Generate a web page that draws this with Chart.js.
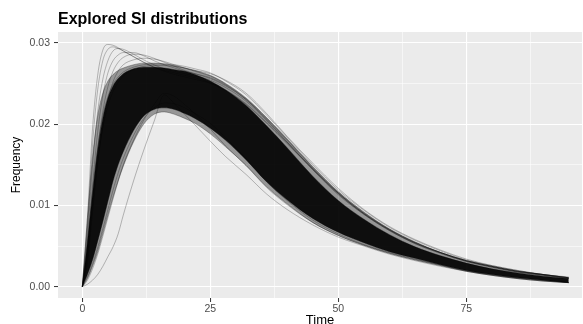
<!DOCTYPE html>
<html>
<head>
<meta charset="utf-8">
<script src="https://cdn.jsdelivr.net/npm/chart.js@4/dist/chart.umd.min.js"></script>
<style>
  html, body { margin: 0; padding: 0; background: #fff; }
  #wrap { width: 583px; height: 324px; position: relative; }
</style>
</head>
<body>
<div id="wrap"><canvas id="c" width="583" height="324"></canvas></div>
<script>
// ---- data ----
const titleText = "Explored SI distributions";
const xTitle = "Time";
const yTitle = "Frequency";
const xTicks = [0, 12.5, 25, 37.5, 50, 62.5, 75, 87.5];
const xMajor = [0, 25, 50, 75];
const yTicks = [0, 0.005, 0.01, 0.015, 0.02, 0.025, 0.03];
const yMajor = [0, 0.01, 0.02, 0.03];

const times = [0,1,2,3,4,5,6,7,8,10,12,14,16,18,20,22,25,28,32,36,40,45,50,55,60,65,70,75,80,85,90,95];

// envelope of the bundle of curves (outer light fringe, inner dense core)
const outerHi = [0,0.0085,0.016,0.021,0.0238,0.0253,0.0261,0.0266,0.0269,0.0273,0.0275,0.0275,0.0274,0.0272,0.0269,0.0266,0.026,0.025,0.0232,0.0208,0.0182,0.0148,0.0117,0.0092,0.0071,0.0055,0.0042,0.0032,0.0025,0.0019,0.0015,0.0011];
const outerLo = [0,0.001,0.0025,0.0043,0.0065,0.0088,0.011,0.013,0.0148,0.0178,0.02,0.0212,0.0215,0.0212,0.0207,0.0201,0.0188,0.0172,0.0149,0.0123,0.0102,0.0079,0.0063,0.0051,0.0041,0.0033,0.0026,0.0019,0.0014,0.001,0.0007,0.0005];
const innerHi = [0,0.0055,0.0115,0.0168,0.0207,0.0232,0.0247,0.0256,0.0262,0.0268,0.027,0.027,0.0269,0.0267,0.0265,0.0261,0.0253,0.0242,0.0223,0.0198,0.0171,0.0136,0.0106,0.0083,0.0064,0.0049,0.0038,0.0029,0.0022,0.0017,0.0013,0.001];
const innerLo = [0,0.0015,0.0033,0.0056,0.008,0.0105,0.013,0.015,0.0166,0.0192,0.021,0.0218,0.022,0.0218,0.0213,0.0207,0.0195,0.018,0.0156,0.0129,0.0107,0.0084,0.0067,0.0054,0.0043,0.0035,0.0027,0.002,0.0015,0.0011,0.0008,0.0005];

// individual visible curves around the bundle
const tall1 = [0,0.0085,0.0195,0.026,0.0291,0.0298,0.0297,0.0294,0.029,0.0283,0.0276,0.027,0.0266,0.0263,0.026,0.0257,0.0251,0.0242,0.0225,0.0202,0.0177,0.0145,0.0115,0.009,0.007,0.0054,0.0042,0.0032,0.0025,0.0019,0.0015,0.0011];
const tall2 = [0,0.006,0.015,0.0215,0.0255,0.0278,0.029,0.0293,0.0292,0.0286,0.0279,0.0273,0.0268,0.0265,0.0262,0.0259,0.0254,0.0245,0.0228,0.0204,0.0178,0.0145,0.0115,0.009,0.007,0.0054,0.0042,0.0032,0.0025,0.0019,0.0015,0.0011];
const tall3 = [0,0.0045,0.0125,0.019,0.0235,0.0263,0.0278,0.0285,0.0288,0.0288,0.0284,0.0278,0.0273,0.0269,0.0265,0.0262,0.0257,0.0248,0.023,0.0205,0.0178,0.0144,0.0113,0.0089,0.0069,0.0053,0.0041,0.0031,0.0024,0.0018,0.0014,0.001];
const tall4 = [0,0.0035,0.0105,0.0168,0.0215,0.0246,0.0265,0.0276,0.0282,0.0286,0.0285,0.0281,0.0276,0.0271,0.0266,0.0262,0.0256,0.0247,0.023,0.0206,0.018,0.0146,0.0115,0.009,0.007,0.0054,0.0042,0.0032,0.0025,0.0019,0.0015,0.0011];
const tall5 = [0,0.0028,0.009,0.015,0.0197,0.023,0.0252,0.0265,0.0273,0.0279,0.0281,0.028,0.0277,0.0273,0.0269,0.0265,0.0259,0.0249,0.0231,0.0207,0.0181,0.0147,0.0116,0.0091,0.0071,0.0055,0.0042,0.0032,0.0025,0.0019,0.0015,0.0011];
const tall6 = [0,0.0072,0.0175,0.0242,0.0278,0.0292,0.0295,0.0293,0.029,0.0283,0.0276,0.027,0.0265,0.0261,0.0258,0.0255,0.025,0.0241,0.0224,0.0201,0.0176,0.0144,0.0114,0.0089,0.0069,0.0053,0.0041,0.0031,0.0024,0.0018,0.0014,0.001];
const upTail = [0,0.004,0.01,0.0155,0.0195,0.0222,0.024,0.0251,0.0259,0.0267,0.0271,0.0272,0.0272,0.0271,0.0269,0.0266,0.0262,0.0254,0.0238,0.0213,0.0185,0.0152,0.0121,0.0095,0.0074,0.0058,0.0045,0.0034,0.0026,0.002,0.0015,0.0012];
const upF1 = [0,0.005,0.0118,0.0172,0.021,0.0234,0.0249,0.0258,0.0264,0.027,0.0273,0.0274,0.0274,0.0273,0.0271,0.0268,0.0263,0.0253,0.0236,0.0211,0.0184,0.015,0.0119,0.0094,0.0073,0.0057,0.0044,0.0033,0.0026,0.002,0.0015,0.0011];
const lowF1 = [0,0.0012,0.0028,0.0048,0.0071,0.0095,0.0119,0.014,0.0158,0.0186,0.0207,0.022,0.0226,0.0225,0.022,0.0213,0.0201,0.0183,0.0158,0.0129,0.0106,0.0082,0.0065,0.0052,0.0042,0.0034,0.0027,0.002,0.0015,0.0011,0.0008,0.0005];
const lowOut = [0,0.0003,0.0008,0.0015,0.0025,0.0037,0.0049,0.0065,0.0088,0.013,0.0168,0.0203,0.0236,0.0225,0.0212,0.0199,0.0179,0.016,0.0138,0.0114,0.0095,0.0076,0.0061,0.005,0.004,0.0032,0.0025,0.0019,0.0014,0.001,0.0007,0.0005];
const lowOut2 = [0,0.0008,0.0022,0.004,0.0062,0.0085,0.0108,0.013,0.015,0.018,0.0205,0.0224,0.0238,0.0234,0.0224,0.0213,0.0194,0.0173,0.0149,0.0122,0.0101,0.0079,0.0063,0.0051,0.0041,0.0033,0.0026,0.0019,0.0014,0.001,0.0007,0.0005];

// ---- build chart ----
const pts = arr => arr.map((v, i) => ({ x: times[i], y: v }));
const lineDs = (arr, color, width) => ({
  data: pts(arr), borderColor: color, borderWidth: width, pointRadius: 0,
  fill: false, cubicInterpolationMode: 'monotone'
});
const thin = 'rgba(0,0,0,0.32)';

const datasets = [
  Object.assign(lineDs(outerHi, 'rgba(0,0,0,0.4)', 0.7), { fill: '+1', backgroundColor: 'rgba(0,0,0,0.36)' }),
  lineDs(outerLo, 'rgba(0,0,0,0.4)', 0.7),
  Object.assign(lineDs(innerHi, 'rgba(0,0,0,0.6)', 0.6), { fill: '+1', backgroundColor: 'rgba(0,0,0,0.9)' }),
  lineDs(innerLo, 'rgba(0,0,0,0.6)', 0.6),
  lineDs(tall1, thin, 0.8),
  lineDs(tall2, thin, 0.8),
  lineDs(tall3, thin, 0.8),
  lineDs(tall4, thin, 0.8),
  lineDs(tall5, thin, 0.8),
  lineDs(tall6, thin, 0.8),
  lineDs(upTail, thin, 0.8),
  lineDs(upF1, thin, 0.8),
  lineDs(lowF1, thin, 0.8),
  lineDs(lowOut, thin, 0.8),
  lineDs(lowOut2, thin, 0.8)
];

const isMajor = (list, v) => list.some(m => Math.abs(m - v) < 1e-9);
const FONT = '"Liberation Sans", Arial, sans-serif';

const panelBg = {
  id: 'panelBg',
  beforeDraw(chart) {
    const { ctx, chartArea: a } = chart;
    ctx.save();
    ctx.fillStyle = '#EBEBEB';
    ctx.fillRect(a.left, a.top, a.right - a.left, a.bottom - a.top);
    ctx.restore();
  }
};
const plotTitle = {
  id: 'plotTitle',
  afterDraw(chart) {
    const { ctx, chartArea: a } = chart;
    ctx.save();
    ctx.fillStyle = '#000';
    ctx.font = 'bold 16px ' + FONT;
    ctx.textBaseline = 'alphabetic';
    ctx.textAlign = 'left';
    ctx.fillText(titleText, a.left, 24);
    ctx.restore();
  }
};

new Chart(document.getElementById('c'), {
  type: 'line',
  data: { datasets },
  plugins: [panelBg, plotTitle],
  options: {
    responsive: false,
    animation: false,
    layout: { padding: { top: 32, right: 1, left: 0, bottom: 0 } },
    plugins: { legend: { display: false }, tooltip: { enabled: false }, title: { display: false } },
    elements: { line: { borderJoinStyle: 'round' } },
    scales: {
      x: {
        type: 'linear', min: -4.75, max: 97.6,
        afterBuildTicks: s => { s.ticks = xTicks.map(v => ({ value: v })); },
        afterFit: s => { s.height = 26; },
        border: { display: false },
        grid: {
          color: '#FFFFFF',
          lineWidth: c => (c.tick && isMajor(xMajor, c.tick.value)) ? 1.1 : 0.55,
          tickColor: c => (c.tick && isMajor(xMajor, c.tick.value)) ? '#333333' : 'rgba(0,0,0,0)',
          tickLength: 4, tickWidth: 1
        },
        ticks: {
          autoSkip: false, maxRotation: 0, padding: 1,
          color: '#4D4D4D', font: { size: 10.5, family: FONT },
          callback: v => isMajor(xMajor, v) ? String(v) : ''
        },
        title: { display: true, text: xTitle, color: '#000', padding: { top: 0, bottom: -4 },
                 font: { size: 13, family: FONT } }
      },
      y: {
        type: 'linear', min: -0.00139, max: 0.03133,
        afterBuildTicks: s => { s.ticks = yTicks.map(v => ({ value: v })); },
        afterFit: s => { s.width = 58; },
        border: { display: false },
        grid: {
          color: '#FFFFFF',
          lineWidth: c => (c.tick && isMajor(yMajor, c.tick.value)) ? 1.1 : 0.55,
          tickColor: c => (c.tick && isMajor(yMajor, c.tick.value)) ? '#333333' : 'rgba(0,0,0,0)',
          tickLength: 4, tickWidth: 1
        },
        ticks: {
          autoSkip: false, padding: 4,
          color: '#4D4D4D', font: { size: 10.5, family: FONT },
          callback: v => isMajor(yMajor, v) ? v.toFixed(2) : ''
        },
        title: { display: true, text: yTitle, color: '#000', padding: { top: 9, bottom: 0 },
                 font: { size: 12, family: FONT } }
      }
    }
  }
});
</script>
</body>
</html>
